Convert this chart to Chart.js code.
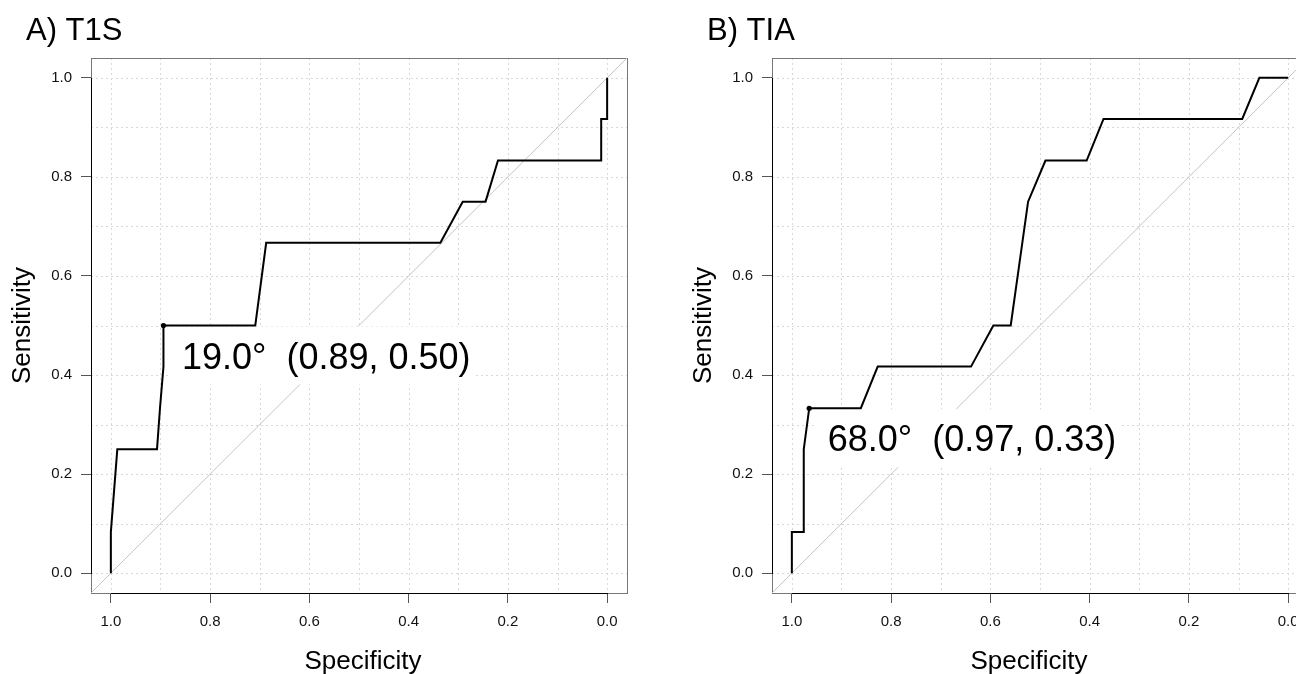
<!DOCTYPE html>
<html>
<head>
<meta charset="utf-8">
<script src="https://cdn.jsdelivr.net/npm/chart.js@4.4.0/dist/chart.umd.min.js"></script>
<style>
html, body { margin: 0; padding: 0; background: #fff; overflow: hidden; }
#wrap { position: relative; width: 1296px; height: 674px; overflow: hidden; }
canvas { position: absolute; top: 0; }
#c1 { left: 0; }
#c2 { left: 648px; }
</style>
</head>
<body>
<div id="wrap">
  <canvas id="c1" width="648" height="674"></canvas>
  <canvas id="c2" width="680" height="674"></canvas>
</div>
<script>
// A) T1S roc curve
var t1sSpec = [1, 1, 0.987, 0.907, 0.901, 0.894, 0.894, 0.709, 0.687, 0.336, 0.291, 0.245, 0.220, 0.012, 0.012, 0, 0];
var t1sSens = [0, 0.083, 0.25, 0.25, 0.333, 0.417, 0.5, 0.5, 0.667, 0.667, 0.75, 0.75, 0.833, 0.833, 0.917, 0.917, 1];
var t1sBest = [0.894, 0.5];
var t1sLabel = "19.0\u00b0  (0.89, 0.50)";

// B) TIA roc curve
var tiaSpec = [1, 1, 0.976, 0.976, 0.965, 0.861, 0.827, 0.639, 0.594, 0.559, 0.524, 0.489, 0.406, 0.372, 0.0925, 0.058, 0];
var tiaSens = [0, 0.083, 0.083, 0.25, 0.333, 0.333, 0.417, 0.417, 0.5, 0.5, 0.75, 0.833, 0.833, 0.917, 0.917, 1, 1];
var tiaBest = [0.965, 0.333];
var tiaLabel = "68.0\u00b0  (0.97, 0.33)";

var tickVals = [0, 0.2, 0.4, 0.6, 0.8, 1.0];
var gridVals = [0, 0.1, 0.2, 0.3, 0.4, 0.5, 0.6, 0.7, 0.8, 0.9, 1.0];
var diagX = [1.04, -0.04];
var diagY = [-0.04, 1.04];
var xName = "Specificity";
var yName = "Sensitivity";

var fontFamily = '"Liberation Sans", Arial, Helvetica, sans-serif';
Chart.defaults.font.family = fontFamily;
Chart.defaults.color = '#000';

function pts(xs, ys) {
    return xs.map(function(v, i) { return {x: v, y: ys[i]}; });
}

var rocDecor = {
    id: 'rocDecor',
    beforeDatasetsDraw: function(chart, args, opts) {
        var ctx = chart.ctx, a = chart.chartArea, xs = chart.scales.x, ys = chart.scales.y;
        ctx.save();
        ctx.lineWidth = 1;
        ctx.strokeStyle = '#d8d8d8';
        ctx.setLineDash([2, 3]);
        gridVals.forEach(function(v) {
            var px = Math.round(xs.getPixelForValue(v)) + 0.5;
            var py = Math.round(ys.getPixelForValue(v)) + 0.5;
            ctx.beginPath(); ctx.moveTo(px, a.top); ctx.lineTo(px, a.bottom); ctx.stroke();
            ctx.beginPath(); ctx.moveTo(a.left, py); ctx.lineTo(a.right, py); ctx.stroke();
        });
        ctx.setLineDash([]);
        ctx.strokeStyle = '#777';
        ctx.strokeRect(a.left + 0.5, a.top + 0.5, a.right - a.left, a.bottom - a.top);
        // axis lines only over 0..1
        ctx.strokeStyle = '#000';
        ctx.beginPath();
        ctx.moveTo(Math.round(xs.getPixelForValue(1)), a.bottom + 0.5);
        ctx.lineTo(Math.round(xs.getPixelForValue(0)) + 1, a.bottom + 0.5);
        ctx.moveTo(a.left + 0.5, Math.round(ys.getPixelForValue(0)) + 1);
        ctx.lineTo(a.left + 0.5, Math.round(ys.getPixelForValue(1)));
        ctx.stroke();
        ctx.restore();
    },
    afterDatasetDraw: function(chart, args, opts) {
        if (args.index !== 2) return;
        var ctx = chart.ctx, xs = chart.scales.x, ys = chart.scales.y;
        var tx = xs.getPixelForValue(opts.best[0]) + 18.5;
        var ty = ys.getPixelForValue(opts.best[1]) + 43;
        ctx.save();
        ctx.font = '36px ' + fontFamily;
        var w = ctx.measureText(opts.label).width;
        ctx.fillStyle = '#fff';
        ctx.fillRect(tx - 14, ty - 42, w + 18, 58);
        ctx.fillStyle = '#000';
        ctx.textBaseline = 'alphabetic';
        ctx.fillText(opts.label, tx, ty);
        ctx.restore();
    },
    afterDraw: function(chart, args, opts) {
        var ctx = chart.ctx, a = chart.chartArea, xs = chart.scales.x;
        ctx.save();
        ctx.fillStyle = '#000';
        ctx.textBaseline = 'alphabetic';
        ctx.font = '31px ' + fontFamily;
        ctx.fillText(opts.title, a.left - 65, 39.5);
        ctx.font = '26px ' + fontFamily;
        ctx.textAlign = 'center';
        ctx.fillText(xName, xs.getPixelForValue(0.5) + opts.xShift, 668.5);
        ctx.restore();
    }
};

function makeRoc(id, spec, sens, best, label, title, yWidth, padRight, yTitlePad, xShift) {
    var ctx = document.getElementById(id).getContext('2d');
    return new Chart(ctx, {
        type: 'scatter',
        data: {
            datasets: [{
                data: [{x: best[0], y: best[1]}],
                pointRadius: 2.6,
                pointBackgroundColor: '#000',
                pointBorderWidth: 0,
                showLine: false
            }, {
                data: pts(spec, sens),
                showLine: true,
                borderColor: '#000',
                borderWidth: 2,
                pointRadius: 0,
                tension: 0,
                fill: false
            }, {
                data: pts(diagX, diagY),
                showLine: true,
                borderColor: '#c4c4c4',
                borderWidth: 1,
                pointRadius: 0,
                fill: false
            }]
        },
        options: {
            responsive: false,
            animation: false,
            events: [],
            layout: { padding: { left: 0, top: 58, right: padRight, bottom: 0 } },
            plugins: {
                legend: { display: false },
                tooltip: { enabled: false },
                rocDecor: { title: title, best: best, label: label, xShift: xShift }
            },
            scales: {
                x: {
                    type: 'linear',
                    reverse: true,
                    min: -0.04,
                    max: 1.04,
                    afterBuildTicks: function(s) { s.ticks = tickVals.map(function(v) { return {value: v}; }); },
                    afterFit: function(s) { s.height = 81; },
                    border: { display: false },
                    grid: { drawOnChartArea: false, drawTicks: true, tickLength: 10, tickColor: '#555', tickWidth: 1 },
                    ticks: {
                        font: { size: 15 }, color: '#111', padding: 10,
                        maxRotation: 0, autoSkip: false,
                        callback: function(v) { return Number(v).toFixed(1); }
                    }
                },
                y: {
                    type: 'linear',
                    min: -0.04,
                    max: 1.04,
                    afterBuildTicks: function(s) { s.ticks = tickVals.map(function(v) { return {value: v}; }); },
                    afterFit: function(s) { s.width = yWidth; },
                    border: { display: false },
                    grid: { drawOnChartArea: false, drawTicks: true, tickLength: 10, tickColor: '#555', tickWidth: 1 },
                    ticks: {
                        font: { size: 15 }, color: '#111', padding: 9,
                        autoSkip: false,
                        callback: function(v) { return Number(v).toFixed(1); }
                    },
                    title: {
                        display: true, text: yName, color: '#000',
                        font: { size: 26, lineHeight: 1.15 },
                        padding: { top: yTitlePad, bottom: 0 }
                    }
                }
            }
        },
        plugins: [rocDecor]
    });
}

makeRoc('c1', t1sSpec, t1sSens, t1sBest, t1sLabel, 'A) T1S', 91, 21, 7.5, 4);
makeRoc('c2', tiaSpec, tiaSens, tiaBest, tiaLabel, 'B) TIA', 124, 20, 40.5, -11);
</script>
</body>
</html>
